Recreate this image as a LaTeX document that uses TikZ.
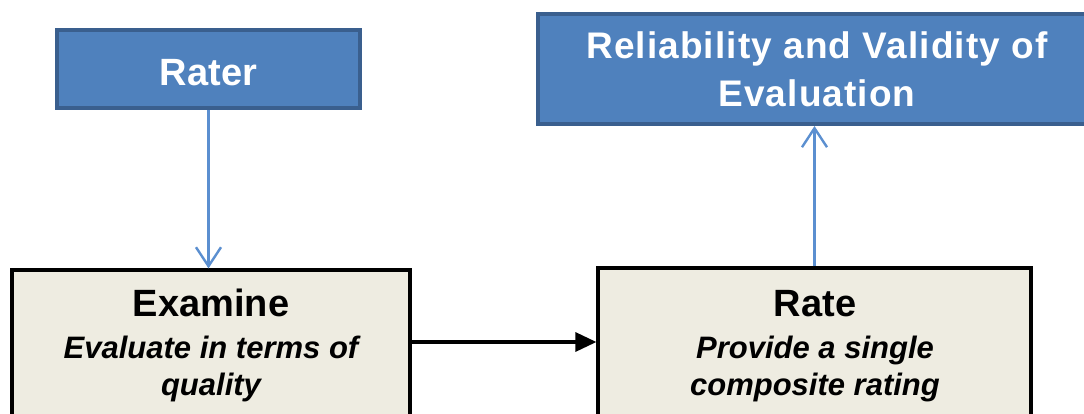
\documentclass[tikz,border=0pt]{standalone}
\usepackage{fontspec}
\setmainfont{Liberation Sans}
\newfontfamily\spacedfont[LetterSpace=3]{Liberation Sans}
\usetikzlibrary{arrows.meta}
\definecolor{boxblue}{HTML}{4F81BD}
\definecolor{boxblueedge}{HTML}{3A5F8E}
\definecolor{paper}{HTML}{EEECE1}
\definecolor{linkblue}{HTML}{5B8FD0}
\begin{document}
\begin{tikzpicture}[x=1pt,y=-1pt,
  bluebox/.style={draw=boxblueedge, fill=boxblue, line width=4pt, inner sep=0pt,
    text=white, align=center},
  stepbox/.style={draw=black, fill=paper, line width=3.2pt, inner sep=0pt},
  steptitle/.style={anchor=base, inner sep=0pt, font=\fontsize{38}{44}\selectfont\bfseries},
  stepnote/.style={anchor=north, inner sep=0pt, align=center,
    font=\fontsize{31}{37}\selectfont\bfseries\itshape},
  bluelink/.style={draw=linkblue, line width=2.4pt,
    -{Straight Barb[length=19pt,width=25pt,line width=2.4pt]}},
  blacklink/.style={draw=black, line width=3.2pt,
    -{Triangle[length=21pt,width=19pt]}}
]
\useasboundingbox (0,0) rectangle (1084,413);
\fill[white] (0,0) rectangle (1084,413);
\clip (0,0) rectangle (1084,413);

% top row: blue boxes
\node[bluebox, minimum width=303, minimum height=78, text height=33pt, text depth=0pt,
  font=\fontsize{38}{44}\selectfont\bfseries] (rater) at (208.5,69) {Rater};
\node[bluebox, minimum width=558, minimum height=110,
  font=\fontsize{37}{48}\selectfont\bfseries\spacedfont] (quality) at (817,69)
  {Reliability and Validity of\\Evaluation};

% bottom row: process steps
\node[stepbox, minimum width=398, minimum height=150] (examine) at (211,345) {};
\node[steptitle] (examineT) at (211,316) {Examine};
\node[stepnote] (examineN) at (211,335.5) {Evaluate in terms of\\quality};

\node[stepbox, minimum width=433, minimum height=152] (rate) at (814.5,344) {};
\node[steptitle] (rateT) at (815,316) {Rate};
\node[stepnote] (rateN) at (815,335.5) {Provide a single\\composite rating};

% connectors
\draw[bluelink] (rater.south) -- (rater.south |- examine.north);
\draw[bluelink] (rate.north) -- (rate.north |- quality.south);
\draw[blacklink] ([yshift=3pt]examine.east) -- ([yshift=3pt]examine.east -| rate.west);
\end{tikzpicture}
\end{document}
